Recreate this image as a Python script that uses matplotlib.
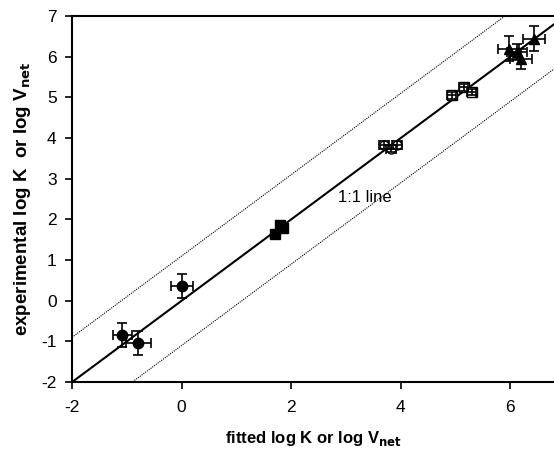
import numpy as np
import matplotlib
matplotlib.use("Agg")
import matplotlib.pyplot as plt

plt.rcParams['font.family'] = ['Liberation Sans', 'DejaVu Sans']
plt.rcParams['axes.unicode_minus'] = False

# filled circles
circ_x = [-1.08, -0.79, 0.01]
circ_y = [-0.84, -1.04, 0.36]
circ_xerr = [0.18, 0.23, 0.2]
circ_yerr = [0.3, 0.3, 0.3]

# filled squares
sq_x = [1.71, 1.80, 1.86]
sq_y = [1.64, 1.86, 1.78]
sq_err = [0.08, 0.08, 0.08]

# open circles
oc_x = [3.69, 3.82, 3.93]
oc_y = [3.83, 3.74, 3.83]
oc_err = [0.09, 0.09, 0.09]

# open squares
os_x = [4.93, 5.15, 5.30]
os_y = [5.05, 5.25, 5.14]
os_err = [0.08, 0.08, 0.08]

# filled triangles
tri_x = [5.97, 6.12, 6.19, 6.44]
tri_y = [6.20, 6.12, 5.95, 6.45]
tri_xerr = [0.2, 0.18, 0.2, 0.2]
tri_yerr = [0.3, 0.2, 0.25, 0.3]

fig = plt.figure(figsize=(5.54, 4.49), dpi=100)
ax = fig.add_axes([0.13, 0.149, 0.87, 0.815])

line = np.array([-2, 8])
ax.plot(line, line, color='black', lw=1.5, zorder=1)
ax.plot(line, line + 1.1, color='black', lw=0.8, ls=(0, (1, 1)), zorder=1)
ax.plot(line, line - 1.1, color='black', lw=0.8, ls=(0, (1, 1)), zorder=1)

eb = dict(ecolor='black', elinewidth=1.2, capsize=3.5, capthick=1.2, ls='none', zorder=3)
ax.errorbar(circ_x, circ_y, xerr=circ_xerr, yerr=circ_yerr, fmt='o', ms=7.5,
            mfc='black', mec='black', **eb)
ax.errorbar(sq_x, sq_y, xerr=sq_err, yerr=sq_err, fmt='s', ms=6.5,
            mfc='black', mec='black', **eb)
ax.plot(oc_x, oc_y, 'o', ms=6.5, mfc='white', mec='black', zorder=2)
ax.errorbar(oc_x, oc_y, xerr=oc_err, yerr=oc_err, fmt='none', **eb)
ax.plot(os_x, os_y, 's', ms=6.5, mfc='white', mec='black', zorder=2)
ax.errorbar(os_x, os_y, xerr=os_err, yerr=os_err, fmt='none', **eb)
ax.errorbar(tri_x, tri_y, xerr=tri_xerr, yerr=tri_yerr, fmt='^', ms=6.5,
            mfc='black', mec='black', **eb)

ax.text(2.86, 2.55, '1:1 line', fontsize=12, va='center', ha='left')

ax.set_xlim(-2, 6.8)
ax.set_ylim(-2, 7)
ax.set_xticks([-2, 0, 2, 4, 6])
ax.set_yticks(range(-2, 8))
ax.tick_params(direction='out', length=5, width=1.2, labelsize=12.5)
ax.tick_params(axis='x', pad=8)
ax.tick_params(axis='y', pad=6)
ax.spines['right'].set_visible(False)
for s in ['left', 'bottom', 'top']:
    ax.spines[s].set_linewidth(1.5)

ax.set_xlabel('fitted log K or log V$_{\\mathbf{net}}$', fontsize=12,
              fontweight='bold', labelpad=10)
ax.set_ylabel('experimental log K  or log V$_{\\mathbf{net}}$', fontsize=13.5,
              fontweight='bold', labelpad=6)

fig.savefig('out.png', dpi=100)
